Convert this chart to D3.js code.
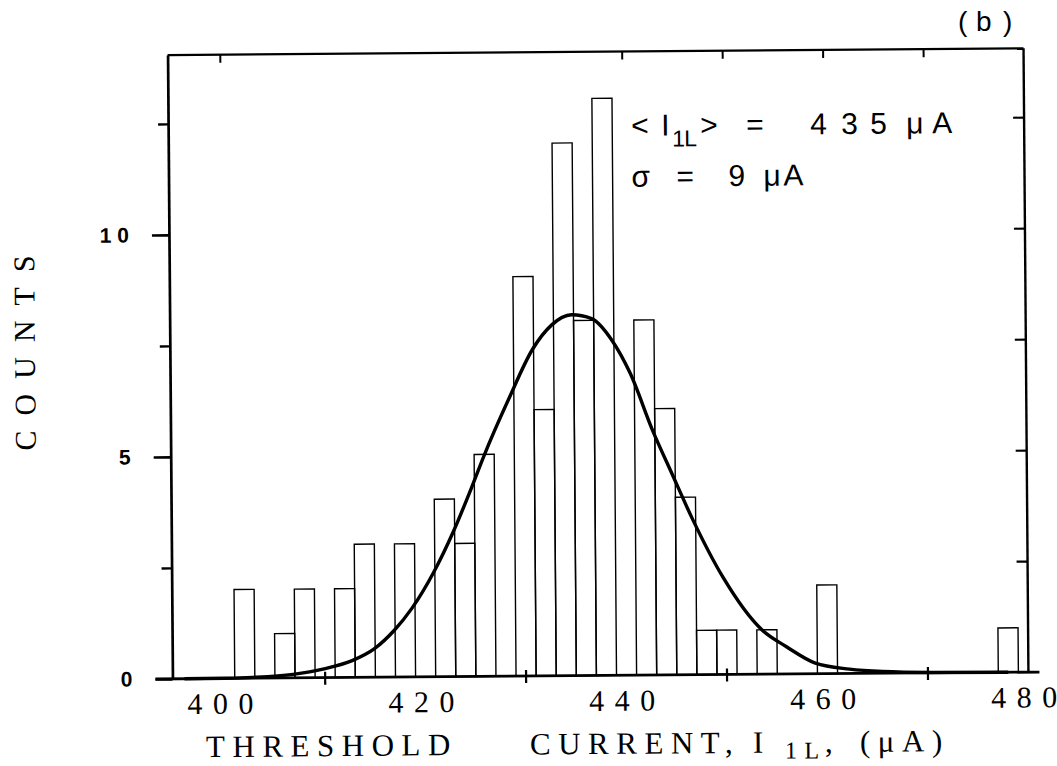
<!DOCTYPE html>
<html>
<head>
<meta charset="utf-8">
<script src="https://cdn.jsdelivr.net/npm/d3@7"></script>
<style>
  body { margin: 0; background: #fff; }
  .serif { font-family: "Liberation Serif", "Times New Roman", serif; }
  .sans { font-family: "Liberation Sans", Arial, sans-serif; }
</style>
</head>
<body>
<svg width="1057" height="766"></svg>
<script>
// histogram bins (left edge, width 2 uA) and counts
const binWidth = 2;
const binStart = [401, 405, 407, 411, 413, 417, 421, 423, 425, 429, 431, 433, 435, 437, 441, 443, 445, 447, 449, 453, 459, 477];
const counts   = [2,   1,   2,   2,   3,   3,   4,   3,   5,   9,   6,   12,  8,   13,  8,   6,   4,   1,   1,   1,   2,   1];

// fitted curve
const fitX = [396, 400, 402.8, 406.8, 409.9, 412.7, 414.9, 416.9, 418.7, 420.9, 422.9, 424.8, 426.0, 428.5, 430.9, 432.8, 434.8, 436.8, 438.8, 440.6, 442.8, 444.7, 446.7, 449.7, 453.5, 455.9, 458.8, 462.2, 465.5, 470.4, 478];
const fitY = [0,   0.005, 0.02, 0.08, 0.2, 0.38, 0.64, 1.05, 1.55, 2.36, 3.28, 4.3, 4.98, 6.25, 7.36, 7.9, 8.13, 8.04, 7.55, 6.8, 5.5, 4.52, 3.5, 2.18, 1.0, 0.62, 0.24, 0.1, 0.04, 0.01, 0];

// axes
const xLabelTicks = [400, 420, 440, 460, 480];
const xTickLabels = ["4 0 0", "4 2 0", "4 4 0", "4 6 0", "4 8 0"];
const xCrossTicks = [410, 430, 450, 470];
const xTopTicks = [400, 440, 450, 460, 470];
const yMajor = [0, 5, 10];
const yTickLabels = ["0", "5", "1 0"];
const yMinor = [2.5, 7.5, 12.5];
const yRight = [2.5, 5, 7.5, 10, 12.5];

let svg = d3.select("svg");
// the scan is slightly tilted
let root = svg.append("g").attr("transform", "rotate(-0.45, 598, 365)");

let x = d3.scaleLinear().domain([394.8, 480]).range([170, 1026]);
let y = d3.scaleLinear().domain([0, 14.05]).range([675.5, 51.7]);

// bars
root.append("g")
    .selectAll("rect")
    .data(binStart.map((s, i) => ({ s: s, c: counts[i] })))
    .join("rect")
    .attr("x", d => x(d.s))
    .attr("width", d => x(d.s + binWidth) - x(d.s))
    .attr("y", d => y(d.c))
    .attr("height", d => y(0) - y(d.c))
    .attr("fill", "none")
    .attr("stroke", "#000")
    .attr("stroke-width", 1.4);

// gaussian fit
let line = d3.line()
    .x(d => x(d[0]))
    .y(d => y(d[1]))
    .curve(d3.curveMonotoneX);
root.append("path")
    .datum(d3.zip(fitX, fitY))
    .attr("d", line)
    .attr("fill", "none")
    .attr("stroke", "#000")
    .attr("stroke-width", 3.4);

// frame: top and right
root.append("line")
    .attr("x1", 170).attr("x2", 1026).attr("y1", y.range()[1]).attr("y2", y.range()[1])
    .attr("stroke", "#000").attr("stroke-width", 2.2);
root.append("line")
    .attr("x1", 1026).attr("x2", 1026).attr("y1", y.range()[1]).attr("y2", y(0))
    .attr("stroke", "#000").attr("stroke-width", 2.4);

// left axis
let yAxis = root.append("g")
    .attr("transform", "translate(170,0)")
    .call(d3.axisLeft(y).tickValues(yMajor).tickSize(17).tickSizeOuter(0).tickPadding(23)
        .tickFormat((d, i) => yTickLabels[i]));
yAxis.selectAll("path, line").attr("stroke", "#000").attr("stroke-width", 2.7);
yAxis.selectAll("text")
    .attr("class", "sans")
    .style("font-size", "21px")
    .style("font-weight", "bold")
    .attr("fill", "#000");
root.append("g")
    .attr("transform", "translate(170,0)")
    .call(d3.axisLeft(y).tickValues(yMinor).tickSize(10).tickFormat(""))
    .call(g => g.select(".domain").remove())
    .selectAll("line").attr("stroke", "#000").attr("stroke-width", 2.4);

// right ticks, inward
root.append("g")
    .attr("transform", "translate(1026,0)")
    .call(d3.axisLeft(y).tickValues(yRight).tickSize(11).tickFormat(""))
    .call(g => g.select(".domain").remove())
    .selectAll("line").attr("stroke", "#000").attr("stroke-width", 2.2);

// top ticks, inward
root.append("g")
    .attr("transform", "translate(0," + y.range()[1] + ")")
    .call(d3.axisBottom(x).tickValues(xTopTicks).tickSize(8).tickFormat(""))
    .call(g => g.select(".domain").remove())
    .selectAll("line").attr("stroke", "#000").attr("stroke-width", 2);

// bottom axis
root.append("line")
    .attr("x1", 153).attr("x2", 1037).attr("y1", y(0)).attr("y2", y(0))
    .attr("stroke", "#000").attr("stroke-width", 2.8);
let xAxis = root.append("g")
    .attr("transform", "translate(0," + y(0) + ")")
    .call(d3.axisBottom(x).tickValues(xLabelTicks).tickSize(0).tickPadding(14)
        .tickFormat((d, i) => xTickLabels[i]));
xAxis.select(".domain").remove();
xAxis.selectAll("text")
    .attr("class", "serif")
    .attr("dx", -5)
    .style("font-size", "30px")
    .style("word-spacing", "3px")
    .attr("fill", "#000");
root.append("g")
    .selectAll("line")
    .data(xCrossTicks)
    .join("line")
    .attr("x1", d => x(d)).attr("x2", d => x(d))
    .attr("y1", y(0) - 6).attr("y2", y(0) + 7)
    .attr("stroke", "#000").attr("stroke-width", 2.2);

// axis titles
root.append("text")
    .attr("class", "serif")
    .attr("transform", "translate(35,341) rotate(-90)")
    .attr("text-anchor", "middle")
    .style("font-size", "30px")
    .style("letter-spacing", "15px")
    .text("COUNTS");

let xt = root.append("text")
    .attr("class", "serif")
    .attr("y", 754)
    .style("font-size", "31px")
    .style("letter-spacing", "7.5px");
xt.append("tspan").attr("x", 203).text("THRESHOLD");
xt.append("tspan").attr("x", 527).text("CURRENT,");
xt.append("tspan").attr("x", 750).text("I");
xt.append("tspan").attr("x", 782).attr("dy", 6).style("font-size", "24px").text("1L");
xt.append("tspan").attr("x", 822).attr("dy", -6).text(",");
xt.append("tspan").attr("x", 857).text("(μA)");

// annotation
let a1 = root.append("text").attr("class", "sans").attr("y", 136).style("font-size", "30px");
[["<", 633], ["I", 663], [">", 702], ["=", 748], ["4", 812], ["3", 843], ["5", 872], ["μ", 908], ["A", 934]]
    .forEach(t => a1.append("tspan").attr("x", t[1]).text(t[0]));
root.append("text").attr("class", "sans").attr("y", 147).style("font-size", "23px")
    .call(t => t.append("tspan").attr("x", 674).text("1"))
    .call(t => t.append("tspan").attr("x", 686).text("L"));
let a2 = root.append("text").attr("class", "sans").attr("y", 187).style("font-size", "30px");
[["σ", 633], ["=", 678], ["9", 730], ["μ", 765], ["A", 785]]
    .forEach(t => a2.append("tspan").attr("x", t[1]).text(t[0]));

// panel label
let b = svg.append("text").attr("class", "sans").attr("y", 31).style("font-size", "28px");
[["(", 958], ["b", 976], [")", 1003]].forEach(t => b.append("tspan").attr("x", t[1]).text(t[0]));
</script>
</body>
</html>
